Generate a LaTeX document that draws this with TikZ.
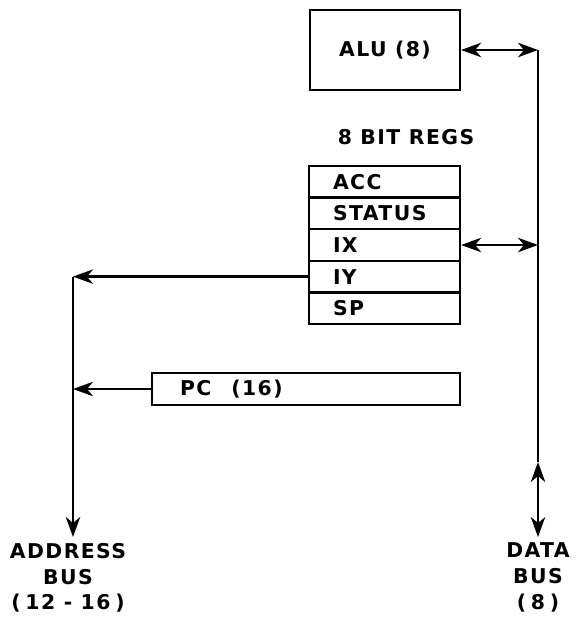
\documentclass[tikz,border=0pt]{standalone}
\usepackage{fontspec}
\setmainfont{DejaVu Sans}[LetterSpace=7]
\usetikzlibrary{arrows.meta}

\tikzset{
	bus/.style={line width=1.6pt},
	busarrow/.style={bus, {Stealth[length=5mm,width=3.6mm,inset=1.5mm]}-{Stealth[length=5mm,width=3.6mm,inset=1.5mm]}},
	busout/.style={bus, -{Stealth[length=5mm,width=3.6mm,inset=1.5mm]}},
	reg/.style={draw, line width=1.6pt, minimum width=3.775cm, minimum height=0.79cm,
		text width=2.575cm, inner xsep=0.6cm, align=left, font=\bfseries},
	lbl/.style={font=\bfseries, align=center}
}

\begin{document}
\begin{tikzpicture}
		\useasboundingbox (0,0) rectangle (14.55,-15.7);
		\fontsize{14.5}{18.4}\selectfont
		% ALU
		\node[draw, line width=1.6pt, minimum width=3.75cm, minimum height=2cm, font=\bfseries] (alu) at (9.625,-1.25) {ALU (8)};
		% register stack
		\node[lbl] (regs) at (10.15,-3.425) {8 BIT REGS};
		\foreach \name/\txt [count=\i] in {acc/ACC, status/STATUS, ix/IX, iy/IY, sp/SP} {
			\node[reg] (\name) at (9.6125,-4.545-0.79*\i+0.79) {\txt};
		}
		% program counter
		\node[reg, minimum width=7.7cm, text width=6.3cm, inner xsep=0.7cm, minimum height=0.8cm] (pc) at (7.65,-9.725) {PC\hspace{0.5cm}(16)};
		% bus ends
		\coordinate (abus) at (1.825,-13.425);
		\coordinate (dmid) at (13.45,-11.55);
		\coordinate (dbus) at (13.45,-13.425);
		% address bus
		\draw[busout] (iy.west) -- (iy.west -| abus);
		\draw[busout] (pc.west) -- (pc.west -| abus);
		\draw[busout] (iy.west -| abus) -- (abus);
		% data bus
		\draw[busarrow] (alu.east) -- (alu.east -| dbus);
		\draw[busarrow] (ix.east) -- (ix.east -| dbus);
		\draw[bus] (alu.east -| dbus) -- (dmid);
		\draw[busarrow] (dmid) -- (dbus);
		% Labels
		\node[lbl, anchor=north] (alabel) at (1.7,-13.4) {ADDRESS\\BUS\\(\hspace{0.12cm}12 - 16\hspace{0.12cm})};
		\node[lbl, anchor=north] (dlabel) at (13.45,-13.4) {DATA\\BUS\\(\hspace{0.12cm}8\hspace{0.12cm})};
	\end{tikzpicture}
\end{document}
